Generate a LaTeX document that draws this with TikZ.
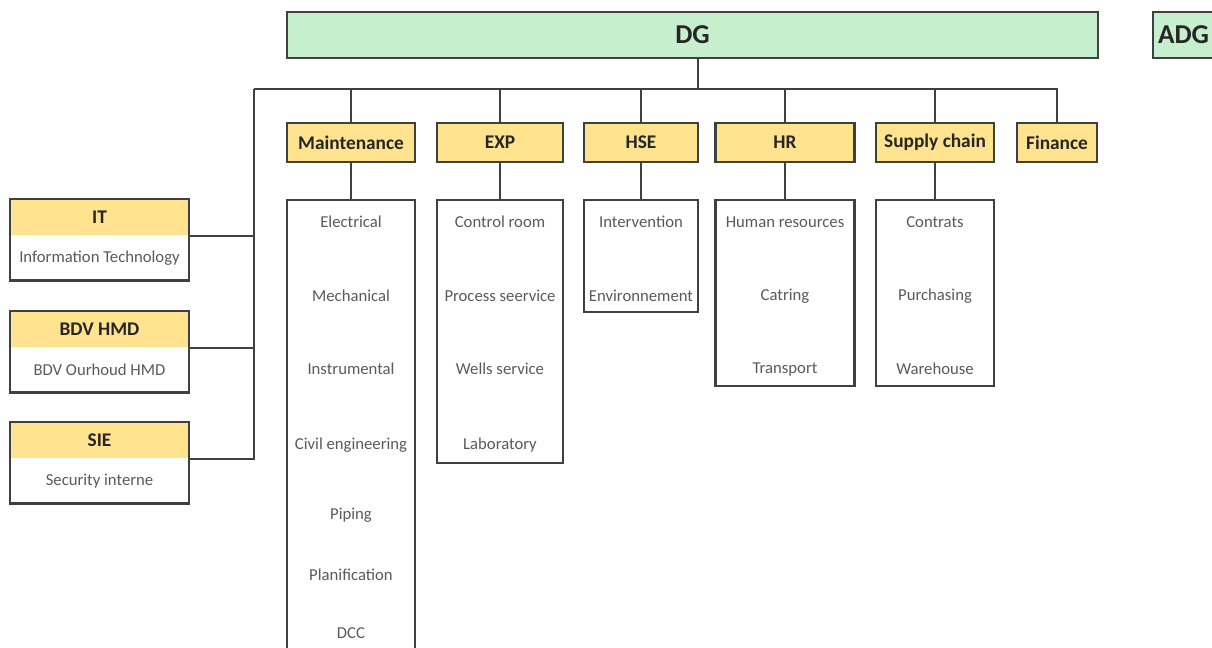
\documentclass[tikz,border=0pt]{standalone}
\usepackage{fontspec}
\setmainfont{Carlito}
\usetikzlibrary{positioning}

\definecolor{dggreen}{HTML}{C6EFCE}
\definecolor{headyellow}{HTML}{FFE38F}
\definecolor{linegray}{HTML}{404040}
\definecolor{itemgray}{HTML}{5A5A5A}

\begin{document}
\begin{tikzpicture}[
  x=0.02cm, y=-0.02cm,
  top/.style={draw=linegray, fill=dggreen, line width=1.3pt, minimum height=0.92cm, inner sep=0pt, font=\fontsize{15.5}{18}\selectfont\bfseries, text=black!85},
  head/.style={draw=linegray, fill=headyellow, line width=1.3pt, minimum height=0.78cm, inner sep=0pt, font=\fontsize{11}{13}\selectfont\bfseries, text=black!85},
  unit/.style={draw=linegray, fill=white, line width=1.3pt, anchor=north},
  item/.style={font=\fontsize{9.5}{11}\selectfont, text=itemgray},
  sidehead/.style={fill=headyellow, minimum width=3.58cm, minimum height=0.72cm, inner sep=0pt, anchor=north, font=\fontsize{11}{13}\selectfont\bfseries, text=black!85},
  sidedesc/.style={fill=white, minimum width=3.58cm, minimum height=0.88cm, inner sep=0pt, item},
  link/.style={draw=linegray, line width=1.3pt}
]
  \useasboundingbox (0,0) rectangle (1212,647);

  % top management
  \node[top, minimum width=16.22cm] (dg) at (692.5,35) {DG};
  \node[top, minimum width=1.22cm] (adg) at (1183.5,35) {ADG};

  % departments
  \foreach \id/\xx/\w/\txt in {mnt/351/2.56/Maintenance, exp/500/2.52/EXP, hse/641/2.28/HSE, hr/785/2.78/HR, sc/935/2.36/Supply chain, fin/1057/1.6/Finance}
    \node[head, minimum width=\w cm] (\id) at (\xx,142.5) {\txt};

  % service boxes
  \node[unit, minimum width=2.56cm, minimum height=9.4cm] (mnt-box) at (351,199) {};
  \node[unit, minimum width=2.52cm, minimum height=5.26cm] (exp-box) at (500,199) {};
  \node[unit, minimum width=2.28cm, minimum height=2.24cm] (hse-box) at (641,199) {};
  \node[unit, minimum width=2.78cm, minimum height=3.72cm] (hr-box) at (785,199) {};
  \node[unit, minimum width=2.36cm, minimum height=3.72cm] (sc-box) at (935,199) {};

  % services
  \foreach \n/\yy/\txt in {1/222/Electrical, 2/296/Mechanical, 3/369/Instrumental, 4/445/Civil engineering, 5/515/Piping, 6/575/Planification, 7/633/DCC}
    \node[item] (mnt\n) at (351,\yy) {\txt};
  \foreach \n/\yy/\txt in {1/222/Control room, 2/296/Process seervice, 3/369/Wells service, 4/445/Laboratory}
    \node[item] (exp\n) at (500,\yy) {\txt};
  \foreach \n/\yy/\txt in {1/222/Intervention, 2/296/Environnement}
    \node[item] (hse\n) at (641,\yy) {\txt};
  \foreach \n/\yy/\txt in {1/222/Human resources, 2/296/Catring, 3/369/Transport}
    \node[item] (hr\n) at (785,\yy) {\txt};
  \foreach \n/\yy/\txt in {1/222/Contrats, 2/296/Purchasing, 3/369/Warehouse}
    \node[item] (sc\n) at (935,\yy) {\txt};

  % staff units on the left
  \foreach \id/\yy/\txt/\desc in {it/199/IT/Information Technology, bdv/311/BDV HMD/BDV Ourhoud HMD, sie/422/SIE/Security interne} {
    \node[sidehead] (\id-head) at (99.5,\yy) {\txt};
    \node[sidedesc, below=0pt of \id-head] (\id-desc) {\desc};
    \draw[link] (\id-head.north west) rectangle (\id-desc.south east);
  }

  % connectors
  \coordinate (busL) at (254,89);
  \coordinate (busR) at (fin.north |- busL);
  \coordinate (dgdrop) at ([xshift=0.11cm]dg.south);
  \draw[link] (dgdrop) -- (dgdrop |- busL);
  \draw[link] (busL) -- (busR) -- (fin.north);
  \foreach \id in {mnt,exp,hse,hr,sc} {
    \draw[link] (\id.north) -- (\id.north |- busL);
    \draw[link] (\id.south) -- (\id-box.north);
  }
  \draw[link] (busL) |- (sie-head.south east);
  \draw[link] (it-head.south east) -- (it-head.south east -| busL);
  \draw[link] (bdv-head.south east) -- (bdv-head.south east -| busL);
\end{tikzpicture}
\end{document}
